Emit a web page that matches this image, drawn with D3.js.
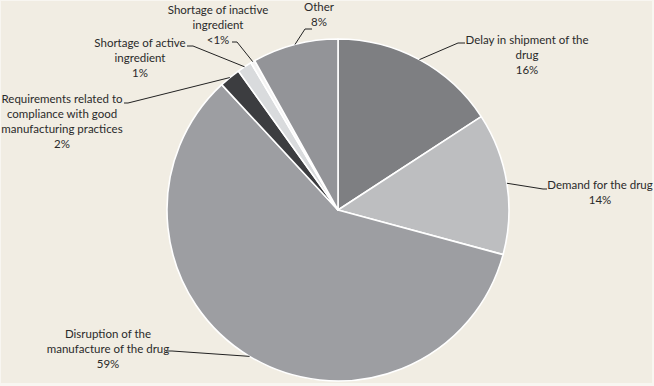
<!DOCTYPE html>
<html><head><meta charset="utf-8">
<script src="https://cdn.jsdelivr.net/npm/d3@7"></script>
<style>html,body{margin:0;padding:0;background:#f8f6f1;}svg{display:block;}</style>
</head><body>
<script>
const categories = ["Delay in shipment of the drug","Demand for the drug","Disruption of the manufacture of the drug","Requirements related to compliance with good manufacturing practices","Shortage of active ingredient","Shortage of inactive ingredient","Other"];
const values = [15.8, 13.4, 58.9, 2.0, 1.4, 0.4, 8.1];
const pctLabels = ["16%","14%","59%","2%","1%","<1%","8%"];
const labelLines = [
  ["Delay in shipment of the","drug","16%"],
  ["Demand for the drug","14%"],
  ["Disruption of the","manufacture of the drug","59%"],
  ["Requirements related to","compliance with good","manufacturing practices","2%"],
  ["Shortage of active","ingredient","1%"],
  ["Shortage of inactive","ingredient","<1%"],
  ["Other","8%"]
];
const colors = ["#7e7f82","#bdbec0","#9d9ea2","#3c3d40","#d9dbdd","#f4f4f4","#939498"];

// layout (label anchor positions and leader bends)
const W=654,H=386,cx=338,cy=210,R=171;
const labelPos = [
  {x:527,y:40, bend:[[458,43],[465,43]]},
  {x:600,y:185, bend:[[543,189],[547,189]]},
  {x:108,y:334, bend:[[172,351],[166,351]]},
  {x:62,y:99, bend:[[128,103],[124,103]]},
  {x:140,y:43, bend:[[193,46],[187,46]]},
  {x:218,y:10, bend:[[237,42],[232,42]]},
  {x:319,y:7, bend:[[305,29],[312,29]]}
];

const svg=d3.select("body").append("svg").attr("width",W).attr("height",H);
svg.append("rect").attr("x",1).attr("y",1).attr("width",W-3).attr("height",H-4).attr("fill","#f1ede3");

const data = categories.map((c,i)=>({c,v:values[i],i}));
const pie=d3.pie().value(d=>d.v).sort(null);
const arcs=pie(data);
const arc=d3.arc().innerRadius(0).outerRadius(R);
const g=svg.append("g").attr("transform",`translate(${cx},${cy})`);
g.selectAll("path").data(arcs).join("path")
  .attr("d",arc).attr("fill",d=>colors[d.data.i])
  .attr("stroke","#ffffff").attr("stroke-width",1.6).attr("stroke-linejoin","round");

const edge=d3.arc().innerRadius(R).outerRadius(R);
arcs.forEach((a,i)=>{
  const c=edge.centroid(a);
  const p0=[cx+c[0],cy+c[1]];
  const pts=[p0,...labelPos[i].bend];
  svg.append("path").attr("d",d3.line()(pts)).attr("fill","none").attr("stroke","#222").attr("stroke-width",1);
  const t=svg.append("text").attr("font-family","Lato, 'Open Sans', sans-serif").attr("font-size",11.5)
    .attr("fill","#2a2a2a").attr("text-anchor","middle");
  labelLines[i].forEach((ln,k)=>{
    t.append("tspan").attr("x",labelPos[i].x).attr("y",labelPos[i].y+k*15).attr("dy","0.35em").text(ln);
  });
});
</script>
</body></html>
